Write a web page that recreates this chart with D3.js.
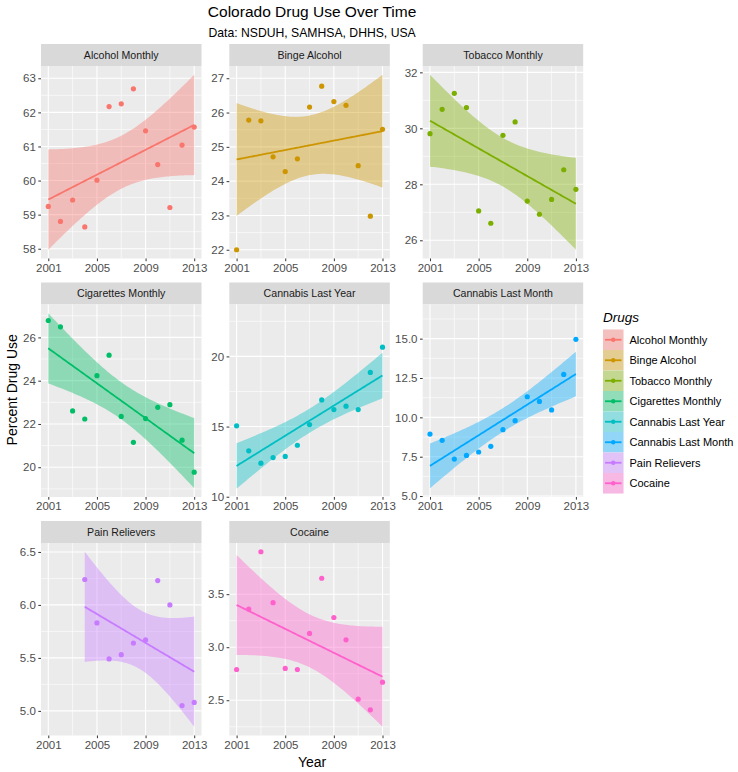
<!DOCTYPE html>
<html>
<head>
<meta charset="utf-8">
<script src="https://cdn.jsdelivr.net/npm/d3@7"></script>
<style>
  html, body { margin: 0; padding: 0; background: #ffffff; }
  svg { display: block; font-family: "Liberation Sans", Arial, sans-serif; }
</style>
</head>
<body>
<svg id="chart" width="738" height="772"></svg>
<script>
// ---------------- data ----------------
const years = [2001, 2002, 2003, 2004, 2005, 2006, 2007, 2008, 2009, 2010, 2011, 2012, 2013];
const painYears = [2004, 2005, 2006, 2007, 2008, 2009, 2010, 2011, 2012, 2013];

const drugNames = ["Alcohol Monthly", "Binge Alcohol", "Tobacco Monthly", "Cigarettes Monthly",
                   "Cannabis Last Year", "Cannabis Last Month", "Pain Relievers", "Cocaine"];
const drugColors = ["#F8766D", "#CD9600", "#7CAE00", "#00BE67", "#00BFC4", "#00A9FF", "#C77CFF", "#FF61CC"];

const alcoholMonthly    = [59.24, 58.80, 59.43, 58.64, 60.01, 62.17, 62.25, 62.69, 61.46, 60.47, 59.21, 61.04, 61.57];
const bingeAlcohol      = [22.00, 25.78, 25.76, 24.71, 24.28, 24.65, 26.16, 26.77, 26.32, 26.21, 24.45, 22.98, 25.51];
const tobaccoMonthly    = [29.81, 30.68, 31.25, 30.74, 27.05, 26.61, 29.75, 30.23, 27.40, 26.93, 27.46, 28.52, 27.82];
const cigarettesMonthly = [26.78, 26.49, 22.60, 22.23, 24.23, 25.18, 22.35, 21.15, 22.25, 22.77, 22.89, 21.25, 19.77];
const cannabisLastYear  = [15.05, 13.27, 12.39, 12.79, 12.87, 13.67, 15.14, 16.90, 16.21, 16.45, 16.21, 18.86, 20.66];
const cannabisLastMonth = [8.94, 8.54, 7.35, 7.58, 7.80, 8.16, 9.22, 9.79, 11.31, 11.01, 10.47, 12.73, 14.96];
const painRelievers     = [6.24, 5.83, 5.49, 5.53, 5.64, 5.67, 6.23, 6.00, 5.05, 5.08];
const cocaine           = [2.79, 3.36, 3.90, 3.42, 2.80, 2.79, 3.13, 3.65, 3.28, 3.07, 2.51, 2.41, 2.67];

const xTicks = [2001, 2005, 2009, 2013];
const alcoholTicks    = [58, 59, 60, 61, 62, 63];
const bingeTicks      = [22, 23, 24, 25, 26, 27];
const tobaccoTicks    = [26, 28, 30, 32];
const cigaretteTicks  = [20, 22, 24, 26];
const cannabisYTicks  = [10, 15, 20];
const cannabisMTicks  = [5.0, 7.5, 10.0, 12.5, 15.0];
const painTicks       = [5.0, 5.5, 6.0, 6.5];
const cocaineTicks    = [2.5, 3.0, 3.5];

// y limits as shown in the reference for the two cannabis panels (others follow the data)
const cannabisYLimits = [9.98, 23.7];
const cannabisMLimits = [4.94, 17.17];

const title = "Colorado Drug Use Over Time";
const subtitle = "Data: NSDUH, SAMHSA, DHHS, USA";
const xTitle = "Year";
const yTitle = "Percent Drug Use";
const legendTitle = "Drugs";

// 95% two-sided t critical values by degrees of freedom
const tCrit = {8: 2.306004, 9: 2.262157, 10: 2.228139, 11: 2.200985};

const panels = [
  {name: drugNames[0], x: years,     y: alcoholMonthly,    ticks: alcoholTicks,   fmt: d3.format("d")},
  {name: drugNames[1], x: years,     y: bingeAlcohol,      ticks: bingeTicks,     fmt: d3.format("d")},
  {name: drugNames[2], x: years,     y: tobaccoMonthly,    ticks: tobaccoTicks,   fmt: d3.format("d")},
  {name: drugNames[3], x: years,     y: cigarettesMonthly, ticks: cigaretteTicks, fmt: d3.format("d")},
  {name: drugNames[4], x: years,     y: cannabisLastYear,  ticks: cannabisYTicks, fmt: d3.format("d"), limits: cannabisYLimits},
  {name: drugNames[5], x: years,     y: cannabisLastMonth, ticks: cannabisMTicks, fmt: d3.format(".1f"), limits: cannabisMLimits},
  {name: drugNames[6], x: painYears, y: painRelievers,     ticks: painTicks,      fmt: d3.format(".1f")},
  {name: drugNames[7], x: years,     y: cocaine,           ticks: cocaineTicks,   fmt: d3.format(".1f")}
];

// ---------------- layout ----------------
const colLeft = [41, 229.3, 422.7];
const panelW = 160.5;
const stripTop = [44, 282.5, 521];
const stripH = 22;
const panelH = 192.5;

const svg = d3.select("#chart");
const FONT = "\"Liberation Sans\", Arial, sans-serif";

// linear regression with confidence band
function fitLM(xs, ys) {
  const n = xs.length;
  const mx = d3.mean(xs), my = d3.mean(ys);
  let sxx = 0, sxy = 0;
  for (let i = 0; i < n; i++) { sxx += (xs[i]-mx)**2; sxy += (xs[i]-mx)*(ys[i]-my); }
  const b = sxy / sxx, a = my - b * mx;
  let sse = 0;
  for (let i = 0; i < n; i++) sse += (ys[i] - (a + b*xs[i]))**2;
  const s = Math.sqrt(sse / (n - 2));
  const t = tCrit[n - 2];
  const [x0, x1] = d3.extent(xs);
  return d3.range(80).map(i => {
    const x = x0 + (x1 - x0) * i / 79;
    const yh = a + b * x;
    const se = s * Math.sqrt(1/n + (x - mx)**2 / sxx);
    return {x, y: yh, lo: yh - t*se, hi: yh + t*se};
  });
}

// ---------------- titles ----------------
const centerX = (colLeft[0] + colLeft[2] + panelW) / 2;
svg.append("text").attr("x", centerX).attr("y", 17).attr("text-anchor", "middle")
  .attr("font-size", 15.5).attr("fill", "#000").text(title);
svg.append("text").attr("x", centerX).attr("y", 37).attr("text-anchor", "middle")
  .attr("font-size", 12.2).attr("fill", "#000").text(subtitle);

// ---------------- panels ----------------
panels.forEach((p, i) => {
  const col = i % 3, row = Math.floor(i / 3);
  const left = colLeft[col];
  const sTop = stripTop[row];
  const pTop = sTop + stripH;
  const pBot = pTop + panelH;
  const color = drugColors[i];

  const fit = fitLM(p.x, p.y);
  let domain;
  if (p.limits) {
    domain = p.limits;
  } else {
    const lo = Math.min(d3.min(p.y), d3.min(fit, d => d.lo));
    const hi = Math.max(d3.max(p.y), d3.max(fit, d => d.hi));
    const pad = (hi - lo) * 0.05;
    domain = [lo - pad, hi + pad];
  }

  const xs = d3.scaleLinear().domain([2001 - 0.6, 2013 + 0.6]).range([left, left + panelW]);
  const ys = d3.scaleLinear().domain(domain).range([pBot, pTop]);

  const g = svg.append("g");

  // strip
  g.append("rect").attr("x", left).attr("y", sTop).attr("width", panelW).attr("height", stripH)
    .attr("fill", "#D9D9D9");
  g.append("text").attr("x", left + panelW/2).attr("y", sTop + stripH/2 + 3.8)
    .attr("text-anchor", "middle").attr("font-size", 10.6).attr("fill", "#1A1A1A").text(p.name);

  // panel bg
  g.append("rect").attr("x", left).attr("y", pTop).attr("width", panelW).attr("height", panelH)
    .attr("fill", "#EBEBEB");

  // minor grid
  const yStep = p.ticks[1] - p.ticks[0];
  const yMinor = [];
  for (let k = p.ticks[0] - yStep; k <= p.ticks[p.ticks.length-1] + 1e-9; k += yStep) {
    const m = k + yStep/2;
    if (m >= ys.domain()[0] && m <= ys.domain()[1]) yMinor.push(m);
  }
  const xStep = xTicks[1] - xTicks[0];
  const xMinor = [];
  for (let k = xTicks[0] - xStep; k <= xTicks[xTicks.length-1]; k += xStep) {
    const m = k + xStep/2;
    if (m >= xs.domain()[0] && m <= xs.domain()[1]) xMinor.push(m);
  }
  g.selectAll(null).data(yMinor).enter().append("line")
    .attr("x1", left).attr("x2", left + panelW).attr("y1", d => ys(d)).attr("y2", d => ys(d))
    .attr("stroke", "#fff").attr("stroke-width", 0.6);
  g.selectAll(null).data(xMinor).enter().append("line")
    .attr("y1", pTop).attr("y2", pBot).attr("x1", d => xs(d)).attr("x2", d => xs(d))
    .attr("stroke", "#fff").attr("stroke-width", 0.6);
  // major grid
  g.selectAll(null).data(p.ticks).enter().append("line")
    .attr("x1", left).attr("x2", left + panelW).attr("y1", d => ys(d)).attr("y2", d => ys(d))
    .attr("stroke", "#fff").attr("stroke-width", 1.1);
  g.selectAll(null).data(xTicks).enter().append("line")
    .attr("y1", pTop).attr("y2", pBot).attr("x1", d => xs(d)).attr("x2", d => xs(d))
    .attr("stroke", "#fff").attr("stroke-width", 1.1);

  // ribbon
  g.append("path").datum(fit)
    .attr("d", d3.area().x(d => xs(d.x)).y0(d => ys(d.lo)).y1(d => ys(d.hi)))
    .attr("fill", color).attr("fill-opacity", 0.4);
  // line
  g.append("path").datum(fit)
    .attr("d", d3.line().x(d => xs(d.x)).y(d => ys(d.y)))
    .attr("fill", "none").attr("stroke", color).attr("stroke-width", 1.8);
  // points
  g.selectAll(null).data(p.x.map((x, j) => ({x, y: p.y[j]}))).enter().append("circle")
    .attr("cx", d => xs(d.x)).attr("cy", d => ys(d.y)).attr("r", 2.6).attr("fill", color);

  // y axis
  const yAxis = d3.axisLeft(ys).tickValues(p.ticks).tickFormat(p.fmt).tickSize(2.7).tickPadding(2.5);
  const ya = g.append("g").attr("transform", `translate(${left},0)`).call(yAxis);
  ya.select(".domain").remove();
  ya.selectAll(".tick line").attr("stroke", "#333333").attr("stroke-width", 1);
  ya.selectAll(".tick text").attr("fill", "#4D4D4D").attr("font-size", 11.5).attr("font-family", FONT);

  // x axis
  const xAxis = d3.axisBottom(xs).tickValues(xTicks).tickFormat(d3.format("d")).tickSize(2.7).tickPadding(2.5);
  const xa = g.append("g").attr("transform", `translate(0,${pBot})`).call(xAxis);
  xa.select(".domain").remove();
  xa.selectAll(".tick line").attr("stroke", "#333333").attr("stroke-width", 1);
  xa.selectAll(".tick text").attr("fill", "#4D4D4D").attr("font-size", 11.5).attr("font-family", FONT);
});

// axis titles
svg.append("text").attr("x", centerX).attr("y", 767).attr("text-anchor", "middle")
  .attr("font-size", 14).attr("fill", "#000").text(xTitle);
svg.append("text").attr("transform", `translate(17,${(stripTop[0] + stripTop[2] + stripH + panelH)/2}) rotate(-90)`)
  .attr("text-anchor", "middle").attr("font-size", 14).attr("fill", "#000").text(yTitle);

// ---------------- legend ----------------
const legX = 603, legTop = 329.5, keyW = 20.5, keyH = 20.5;
svg.append("text").attr("x", legX).attr("y", 322).attr("font-size", 13.5).attr("font-style", "italic")
  .attr("fill", "#000").text(legendTitle);
const lg = svg.append("g");
drugNames.forEach((name, i) => {
  const y0 = legTop + i * keyH;
  lg.append("rect").attr("x", legX).attr("y", y0).attr("width", keyW).attr("height", keyH).attr("fill", "#F2F2F2");
  lg.append("rect").attr("x", legX).attr("y", y0).attr("width", keyW).attr("height", keyH)
    .attr("fill", drugColors[i]).attr("fill-opacity", 0.4);
  lg.append("line").attr("x1", legX + 2).attr("x2", legX + keyW - 2).attr("y1", y0 + keyH/2).attr("y2", y0 + keyH/2)
    .attr("stroke", drugColors[i]).attr("stroke-width", 1.8);
  lg.append("circle").attr("cx", legX + keyW/2).attr("cy", y0 + keyH/2).attr("r", 2.2).attr("fill", drugColors[i]);
  lg.append("text").attr("x", legX + keyW + 6).attr("y", y0 + keyH/2 + 4).attr("font-size", 11)
    .attr("fill", "#000").text(name);
});
</script>
</body>
</html>
